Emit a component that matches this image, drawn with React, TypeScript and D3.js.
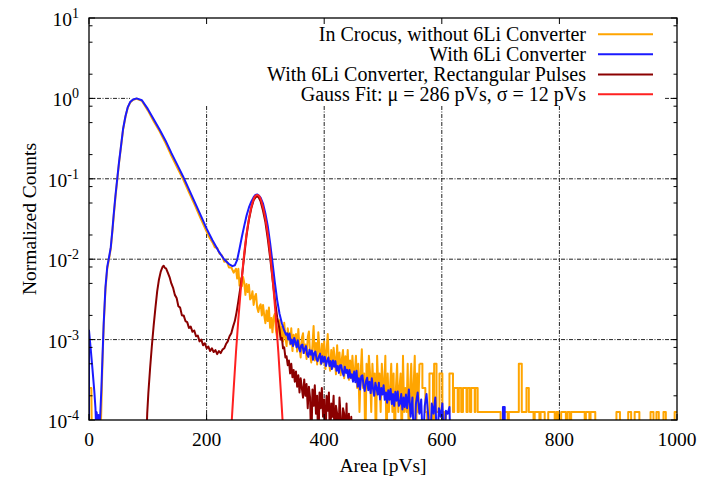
import React from "react";
import * as d3 from "d3";

type Pt = [number, number];

const xTicks = [0, 200, 400, 600, 800, 1000];
const yDecades = [1, 0, -1, -2, -3, -4];
const minorSteps = [2, 5, 8];

const legendLabels = [
  "In Crocus, without 6Li Converter",
  "With 6Li Converter",
  "With 6Li Converter, Rectangular Pulses",
  "Gauss Fit: \u03bc = 286 pVs, \u03c3 = 12 pVs",
];
const colors = ["#ffa500", "#1a1aff", "#8b0000", "#ff2020"];

// In Crocus, without converter
const crocus: Pt[] = [
  [0, 0], [0, 2.5e-4], [4, 2.5e-4], [5, 0], [19, 0], [21, 1.4e-4], [23, 5.5e-4], [25, 1.5e-3],
  [28, 4.2e-3], [31, 7.6e-3], [34, 1.0e-2], [37, 1.35e-2], [40, 2.3e-2], [42, 3.4e-2],
  [45, 5.9e-2], [48, 9.6e-2], [51, 0.155], [54, 0.235], [58, 0.41], [62, 0.59], [66, 0.77],
  [70, 0.89], [75, 0.96], [81, 0.99], [90, 0.93], [100, 0.71], [110, 0.52], [120, 0.39],
  [130, 0.28], [140, 0.195], [150, 0.138], [160, 0.099], [170, 0.068], [180, 0.047],
  [190, 0.032], [200, 0.022], [205, 0.0185],
  [210, 0.0162], [214, 0.0141], [218, 0.0138], [222, 0.0117], [226, 0.0112], [230, 0.0093],
  [234, 0.0095], [238, 0.0079], [242, 0.0079], [246, 0.0068],
  [250, 7.6e-3], [252, 5.75e-3], [254, 7.6e-3], [256, 4.7e-3], [258, 5.75e-3], [260, 4.6e-3],
  [262, 6.0e-3], [264, 5.1e-3], [266, 3.6e-3], [268, 4.9e-3], [270, 3.9e-3], [272, 4.8e-3],
  [274, 3.16e-3], [276, 3.3e-3], [278, 4.0e-3], [280, 2.7e-3], [282, 3.4e-3], [284, 3.7e-3],
  [286, 2.5e-3], [288, 2.2e-3], [290, 2.6e-3], [292, 2.75e-3], [294, 2.0e-3], [296, 2.7e-3],
  [298, 2.0e-3], [300, 1.6e-3], [302, 2.3e-3], [304, 1.7e-3], [306, 2.5e-3], [308, 1.4e-3],
  [310, 1.86e-3], [312, 1.23e-3], [314, 1.9e-3], [316, 2.1e-3], [318, 1.29e-3], [320, 1.05e-3],
  [322, 1.48e-3], [324, 1.74e-3], [326, 1.07e-3], [328, 1.45e-3], [330, 9.5e-4], [332, 1.62e-3],
  [334, 1.07e-3], [336, 8.3e-4], [338, 1.38e-3], [340, 1.1e-3], [342, 8.7e-4], [344, 1.38e-3],
  [346, 7.2e-4], [348, 1.15e-3], [350, 8.7e-4], [352, 1.17e-3], [354, 7.1e-4], [356, 1.35e-3],
  [358, 7.9e-4], [360, 6.0e-4], [362, 1.05e-3], [364, 1.2e-3], [366, 6.8e-4], [368, 8.7e-4],
  [370, 5.75e-4], [372, 1.07e-3], [374, 1.26e-3], [376, 6.5e-4], [378, 5.2e-4], [380, 8.5e-4],
  [382, 1.48e-3], [384, 5.5e-4], [386, 9.1e-4], [388, 4.9e-4], [390, 1.23e-3], [392, 7.4e-4],
  [394, 4.9e-4], [396, 8.9e-4], [398, 5.2e-4], [400, 9.5e-4], [402, 4.3e-4], [404, 7.2e-4],
  [406, 1.17e-3], [408, 5.4e-4], [410, 4.1e-4], [412, 7.4e-4], [414, 4.4e-4], [416, 7.9e-4],
  [418, 5.9e-4], [420, 3.7e-4], [422, 8.5e-4], [424, 4.5e-4], [426, 6.9e-4], [428, 3.6e-4],
  [430, 5.75e-4], [432, 7.4e-4], [434, 3.3e-4], [436, 6.2e-4], [438, 4.2e-4], [440, 7.4e-4],
  [442, 3.16e-4], [444, 5.5e-4], [446, 3.3e-4], [448, 6.3e-4], [450, 3.5e-4],
  [452, 3.8e-4], [454, 6.3e-4], [456, 2.5e-4], [458, 5e-4], [460, 1.26e-4], [462, 3.8e-4],
  [464, 7.6e-4], [466, 2.5e-4], [468, 3.8e-4], [470, 0], [472, 5e-4], [474, 2.5e-4],
  [476, 6.3e-4], [478, 3.8e-4], [480, 1.26e-4], [482, 5e-4], [484, 2.5e-4], [486, 3.8e-4],
  [488, 0], [490, 6.3e-4], [492, 2.5e-4], [494, 3.8e-4], [496, 1.26e-4], [498, 5e-4],
  [500, 2.5e-4], [502, 2.5e-4], [504, 6.3e-4], [506, 0], [508, 3.8e-4], [510, 1.26e-4],
  [512, 2.5e-4], [514, 5e-4], [516, 1.26e-4], [518, 3.8e-4], [520, 0], [522, 2.5e-4],
  [524, 5e-4], [526, 1.26e-4], [528, 2.5e-4], [530, 3.8e-4], [532, 0], [534, 6.3e-4],
  [536, 1.26e-4], [538, 2.5e-4], [540, 1.26e-4], [542, 5e-4], [544, 0], [546, 2.5e-4],
  [548, 5e-4], [550, 1.26e-4], [552, 2.5e-4], [554, 6.3e-4], [556, 0], [558, 3.8e-4],
  [560, 1.26e-4], [562, 5e-4],
];

// sparse bins of the crocus tail
const crocusTail: Pt[] = [
  [562, 5e-4], [567, 2.5e-4], [572, 1.26e-4], [575, 0], [579, 3.8e-4], [585, 0], [587, 5e-4],
  [591, 1.26e-4], [596, 3.8e-4], [601, 1.26e-4], [604, 0], [607, 1.26e-4], [613, 3.8e-4],
  [619, 1.26e-4], [621, 2.5e-4], [627, 1.26e-4], [629, 2.5e-4], [633, 1.26e-4], [636, 2.5e-4],
  [642, 1.26e-4], [644, 2.5e-4], [648, 1.26e-4], [650, 2.5e-4], [656, 1.26e-4], [657, 2.5e-4],
  [661, 1.26e-4], [700, 0], [706, 1.26e-4], [712, 0], [714, 1.26e-4], [731, 5e-4],
  [736, 1.26e-4], [744, 2.5e-4], [748, 1.26e-4], [756, 0], [758, 1.26e-4], [766, 0],
  [768, 1.26e-4], [775, 0], [781, 1.26e-4], [792, 0], [795, 1.26e-4], [798, 0], [803, 1.26e-4],
  [811, 0], [814, 1.26e-4], [818, 0], [820, 1.26e-4], [843, 0], [845, 1.26e-4], [851, 0],
  [853, 1.26e-4], [861, 0], [897, 1.26e-4], [903, 0], [917, 1.26e-4], [922, 0], [928, 1.26e-4],
  [936, 0], [955, 1.26e-4], [960, 0], [965, 1.26e-4], [969, 0], [977, 1.26e-4], [981, 0],
  [996, 1.26e-4], [1000, 1.26e-4],
];

// With 6Li converter
const converter: Pt[] = [
  [0, 0], [0, 1.3e-3], [3, 7.5e-4], [6, 4.2e-4], [9, 2.3e-4], [11, 1.4e-4], [12, 0.85e-4],
  [13, 1.25e-4], [15, 0.75e-4], [16, 1.15e-4], [18, 0.9e-4], [19, 1.1e-4], [21, 2.4e-4],
  [23, 6.2e-4], [25, 1.6e-3], [28, 4.5e-3], [31, 8e-3], [34, 1.05e-2], [37, 1.4e-2], [40, 2.4e-2],
  [42, 3.6e-2], [45, 6.2e-2], [48, 0.1], [51, 0.16], [54, 0.24], [58, 0.42], [62, 0.6],
  [66, 0.78], [70, 0.9], [75, 0.97], [81, 1.0], [90, 0.95], [100, 0.74], [110, 0.55],
  [120, 0.41], [130, 0.3], [140, 0.21], [150, 0.15], [160, 0.107], [170, 0.074], [180, 0.051],
  [190, 0.035], [200, 0.024], [210, 0.0172], [220, 0.0127], [230, 0.0099], [238, 0.0087],
  [244, 0.0082], [248, 0.0084], [252, 0.0098], [256, 0.0135], [260, 0.019], [264, 0.026],
  [268, 0.035], [272, 0.044], [276, 0.052], [280, 0.059], [283, 0.063], [286, 0.064],
  [289, 0.062], [292, 0.058], [296, 0.049], [300, 0.037], [304, 0.026], [308, 0.016],
  [312, 0.0092], [316, 0.0052], [320, 0.0031], [324, 0.0021], [328, 0.0016], [332, 0.0013],
  [335, 1.15e-3],
  [337, 1.2e-3], [339, 1.0e-3], [341, 1.19e-3], [343, 8.9e-4], [345, 1.0e-3], [347, 8.3e-4],
  [349, 1.05e-3], [351, 9.4e-4], [353, 8.0e-4], [355, 9.8e-4], [357, 7.9e-4], [359, 7.1e-4],
  [361, 8.5e-4], [363, 8.7e-4], [365, 6.8e-4], [367, 7.6e-4], [369, 8.3e-4], [371, 6.5e-4],
  [373, 6.1e-4], [375, 7.5e-4], [377, 6.5e-4], [379, 7.3e-4], [381, 5.6e-4], [383, 6.8e-4],
  [385, 7.1e-4], [387, 5.7e-4], [389, 5.4e-4], [391, 6.2e-4], [393, 6.7e-4], [395, 5.0e-4],
  [397, 6.2e-4], [399, 5.3e-4], [401, 6.1e-4], [403, 4.7e-4], [405, 5.4e-4], [407, 6.0e-4],
  [409, 4.7e-4], [411, 5.4e-4], [413, 4.3e-4], [415, 5.5e-4], [417, 4.6e-4], [419, 5.4e-4],
  [421, 4.1e-4], [423, 4.7e-4], [425, 3.85e-4], [427, 4.8e-4], [429, 4.8e-4], [431, 3.9e-4],
  [433, 3.55e-4], [435, 4.6e-4], [437, 3.85e-4], [439, 4.2e-4], [441, 3.35e-4], [443, 4.2e-4],
  [445, 3.35e-4], [447, 3.7e-4], [449, 3.0e-4], [451, 4.0e-4], [453, 2.95e-4], [455, 4.1e-4],
  [457, 2.6e-4], [459, 3.3e-4], [461, 2.4e-4], [463, 3.5e-4], [465, 3.6e-4], [467, 2.66e-4],
  [469, 2.3e-4], [471, 3.0e-4], [473, 3.35e-4], [475, 2.35e-4], [477, 3.0e-4], [479, 2.16e-4],
  [481, 3.3e-4], [483, 2.45e-4], [485, 2.0e-4], [487, 2.9e-4], [489, 2.5e-4], [491, 2.07e-4],
  [493, 2.9e-4], [495, 1.8e-4], [497, 2.5e-4], [499, 2.07e-4], [501, 2.7e-4], [503, 1.78e-4],
  [505, 2.2e-4], [507, 1.64e-4], [509, 2.35e-4], [511, 1.78e-4], [513, 2.43e-4], [515, 1.58e-4],
  [517, 2.1e-4], [519, 1.5e-4], [521, 2.24e-4], [523, 1.74e-4], [525, 2.26e-4], [527, 1.5e-4],
  [529, 1.6e-4], [531, 2.1e-4], [533, 1.35e-4], [535, 1.9e-4], [537, 1.45e-4], [539, 2.07e-4],
  [541, 1.4e-4], [544, 2.4e-4], [547, 1.1e-4], [550, 1.9e-4], [553, 0], [556, 1.6e-4],
  [559, 2.2e-4], [562, 1.2e-4], [565, 1.8e-4], [568, 0], [571, 1.5e-4], [574, 2.1e-4],
  [577, 1.1e-4], [580, 0], [583, 1.6e-4], [586, 1.2e-4], [589, 1.9e-4], [592, 0],
  [595, 1.4e-4], [598, 1.1e-4], [601, 1.6e-4], [604, 0], [607, 1.3e-4], [610, 1.2e-4],
  [613, 1.45e-4], [615, 0],
];

const converterSpike: Pt[] = [[703, 0], [704, 1.45e-4], [707, 0]];

// With 6Li converter, rectangular pulses
const rectangular: Pt[] = [
  [97, 0], [99, 1.2e-4], [101, 2.2e-4], [104, 4.5e-4], [107, 8.5e-4], [110, 1.5e-3],
  [113, 2.5e-3], [116, 4e-3], [119, 5.6e-3], [122, 7e-3], [125, 8e-3], [127, 8.3e-3],
  [129, 7.8e-3], [131, 7.7e-3], [134, 6.8e-3], [137, 6e-3], [140, 5e-3], [143, 4.4e-3],
  [146, 3.6e-3], [149, 3.3e-3], [152, 2.6e-3], [155, 2.5e-3], [158, 2.0e-3], [161, 2.0e-3],
  [164, 1.7e-3], [167, 1.65e-3], [170, 1.4e-3], [173, 1.45e-3], [176, 1.25e-3], [179, 1.3e-3],
  [182, 1.1e-3], [185, 1.12e-3], [188, 0.95e-3], [191, 1.0e-3], [194, 0.85e-3], [197, 0.9e-3],
  [200, 0.78e-3], [203, 0.82e-3], [206, 0.72e-3], [209, 0.78e-3], [212, 0.7e-3], [215, 0.74e-3],
  [218, 0.66e-3], [221, 0.72e-3], [224, 0.68e-3], [227, 0.75e-3], [230, 0.78e-3], [233, 0.88e-3],
  [236, 0.95e-3], [239, 1.1e-3], [242, 1.2e-3], [245, 1.45e-3], [248, 1.7e-3], [251, 2.2e-3],
  [254, 3e-3], [257, 4.2e-3], [260, 6e-3], [264, 1.1e-2], [268, 2e-2], [272, 3.1e-2],
  [276, 4.3e-2], [280, 5.4e-2], [284, 6e-2], [288, 6e-2], [292, 5.2e-2], [296, 4e-2],
  [300, 2.9e-2], [304, 1.8e-2], [308, 1.05e-2], [312, 5.8e-3], [316, 3.2e-3], [320, 1.9e-3],
  [324, 1.35e-3], [326, 1.0e-3], [328, 1.05e-3], [330, 0.78e-3], [332, 0.8e-3], [334, 0.6e-3],
  [336, 0.62e-3], [338, 0.48e-3], [340, 0.55e-3], [342, 0.38e-3], [344, 0.5e-3], [346, 0.34e-3],
  [348, 0.42e-3], [350, 0.3e-3], [352, 0.4e-3], [354, 0.26e-3], [356, 0.36e-3], [358, 0.22e-3],
  [360, 0.33e-3], [362, 0.25e-3], [364, 0.19e-3], [366, 0.32e-3], [368, 0.2e-3], [370, 0.28e-3],
  [372, 0.14e-3], [374, 0.26e-3], [376, 0.19e-3], [378, 0], [380, 0.24e-3], [382, 0.15e-3],
  [384, 0.27e-3], [386, 0.12e-3], [388, 0.2e-3], [390, 0], [392, 0.22e-3], [394, 0.14e-3],
  [396, 0.25e-3], [398, 0.11e-3], [400, 0.18e-3], [402, 0], [404, 0.2e-3], [406, 0.13e-3],
  [408, 0.22e-3], [410, 0], [412, 0.16e-3], [414, 0.11e-3], [416, 0.2e-3], [418, 0],
  [420, 0.15e-3], [422, 0.12e-3], [424, 0], [426, 0.19e-3], [428, 0.11e-3], [430, 0],
  [432, 0.14e-3], [434, 0.12e-3], [436, 0], [438, 0.16e-3], [440, 0], [442, 0.12e-3],
  [444, 0], [446, 0.11e-3], [448, 0],
];

// Gauss fit, as drawn
const gaussFit: Pt[] = [
  [236, 1.2e-5], [240, 3.7e-5], [242, 7.6e-5], [246, 2.4e-4], [250, 7e-4], [254, 1.8e-3],
  [258, 4.1e-3], [262, 8.5e-3], [266, 1.6e-2], [270, 2.6e-2], [274, 3.8e-2], [278, 5.0e-2],
  [282, 6.0e-2], [286, 6.3e-2], [290, 6.0e-2], [294, 5.0e-2], [298, 3.8e-2], [302, 2.6e-2],
  [306, 1.6e-2], [310, 8.5e-3], [314, 4.1e-3], [318, 1.8e-3], [322, 7e-4], [326, 2.4e-4],
  [330, 7.6e-5], [332, 3.7e-5], [336, 1.2e-5],
];

const font = '"Liberation Serif", "Times New Roman", serif';

export default function App() {
  const width = 713;
  const height = 481;
  const left = 89;
  const right = 677;
  const top = 18;
  const bottom = 420;

  const x = d3.scaleLinear().domain([0, 1000]).range([left, right]);
  const y = d3.scaleLog().domain([1e-4, 10]).range([bottom, top]);
  const yPos = (v: number) => (v > 0 ? y(v) : bottom + 30);

  const lin = d3
    .line<Pt>()
    .x((d) => x(d[0]))
    .y((d) => yPos(d[1]));
  const step = d3
    .line<Pt>()
    .x((d) => x(d[0]))
    .y((d) => yPos(d[1]))
    .curve(d3.curveStepAfter);
  const smooth = d3
    .line<Pt>()
    .x((d) => x(d[0]))
    .y((d) => yPos(d[1]))
    .curve(d3.curveMonotoneX);

  const minorTicks: number[] = [];
  yDecades.slice(1).forEach((e) => {
    minorSteps.forEach((m) => minorTicks.push(m * Math.pow(10, e)));
  });

  const grid = "4,1.5,1,1.5";
  const legendX = 586;
  const legendRows = [34.3, 54.3, 74.6, 94.3];

  return (
    <svg
      width={width}
      height={height}
      style={{ position: "absolute", left: 0, top: 0, background: "#fff", fontFamily: font }}
    >
      <defs>
        <clipPath id="plot">
          <rect x={left} y={top} width={right - left} height={bottom - top} />
        </clipPath>
      </defs>
      <rect width={width} height={height} fill="#fff" />

      {/* grid */}
      <g stroke="#222" strokeWidth={1} strokeDasharray={grid} fill="none">
        {xTicks.slice(1, -1).map((t) => (
          <line key={t} x1={x(t)} x2={x(t)} y1={top} y2={bottom} />
        ))}
        {yDecades.slice(1, -1).map((e) => (
          <line key={e} x1={left} x2={right} y1={y(Math.pow(10, e))} y2={y(Math.pow(10, e))} />
        ))}
      </g>

      {/* opaque key box */}
      <rect x={130} y={top} width={535} height={88} fill="#fff" />

      <g clipPath="url(#plot)" fill="none" strokeWidth={2} strokeLinejoin="round">
        <path d={lin(crocus) ?? ""} stroke={colors[0]} />
        <path d={step(crocusTail) ?? ""} stroke={colors[0]} />
        <path d={lin(converter) ?? ""} stroke={colors[1]} />
        <path d={step(converterSpike) ?? ""} stroke={colors[1]} />
        <path d={lin(rectangular) ?? ""} stroke={colors[2]} />
        <path d={smooth(gaussFit) ?? ""} stroke={colors[3]} />
      </g>

      {/* border and ticks */}
      <rect x={left} y={top} width={right - left} height={bottom - top} fill="none" stroke="#000" strokeWidth={1.3} />
      <g stroke="#000" strokeWidth={1}>
        {xTicks.map((t) => (
          <g key={t}>
            <line x1={x(t)} x2={x(t)} y1={bottom} y2={bottom - 6} />
            <line x1={x(t)} x2={x(t)} y1={top} y2={top + 6} />
          </g>
        ))}
        {yDecades.map((e) => (
          <g key={e}>
            <line x1={left} x2={left + 6} y1={y(Math.pow(10, e))} y2={y(Math.pow(10, e))} />
            <line x1={right} x2={right - 6} y1={y(Math.pow(10, e))} y2={y(Math.pow(10, e))} />
          </g>
        ))}
        {minorTicks.map((t) => (
          <g key={t}>
            <line x1={left} x2={left + 3.5} y1={y(t)} y2={y(t)} />
            <line x1={right} x2={right - 3.5} y1={y(t)} y2={y(t)} />
          </g>
        ))}
      </g>

      {/* tick labels */}
      <g fontSize={19.5} fill="#000">
        {xTicks.map((t) => (
          <text key={t} x={x(t)} y={446} textAnchor="middle">
            {t}
          </text>
        ))}
        {yDecades.map((e) => (
          <text key={e} x={79} y={y(Math.pow(10, e)) + 8} textAnchor="end">
            <tspan>10</tspan>
            <tspan dy={-8} fontSize={14}>
              {e}
            </tspan>
          </text>
        ))}
      </g>

      <text x={(left + right) / 2} y={472} textAnchor="middle" fontSize={19.5}>
        Area [pVs]
      </text>
      <text
        transform={`translate(36,${(top + bottom) / 2}) rotate(-90)`}
        textAnchor="middle"
        fontSize={19.5}
      >
        Normalized Counts
      </text>

      {/* key */}
      <g fontSize={20}>
        {legendLabels.map((label, i) => (
          <g key={label}>
            <text x={legendX} y={legendRows[i] + 6.5} textAnchor="end">
              {label}
            </text>
            <line x1={598} x2={653} y1={legendRows[i]} y2={legendRows[i]} stroke={colors[i]} strokeWidth={2} />
          </g>
        ))}
      </g>
    </svg>
  );
}
